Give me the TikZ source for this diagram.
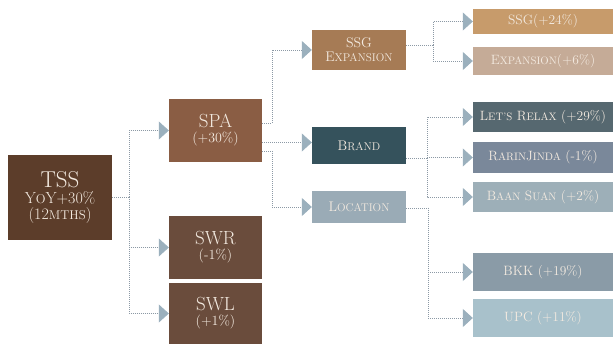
\documentclass[tikz,border=0pt]{standalone}
\usepackage{relsize}
\usetikzlibrary{arrows.meta}

\definecolor{tssbrown}{HTML}{5C3D2A}
\definecolor{spabrown}{HTML}{8A5D44}
\definecolor{swbrown}{HTML}{6A4C3C}
\definecolor{ssgbrown}{HTML}{A67B55}
\definecolor{brandteal}{HTML}{35525C}
\definecolor{locgray}{HTML}{9AABB6}
\definecolor{ssgtan}{HTML}{C79B6B}
\definecolor{exptan}{HTML}{C5AB97}
\definecolor{relaxslate}{HTML}{566870}
\definecolor{rarinslate}{HTML}{7A889A}
\definecolor{baanslate}{HTML}{9DAFB8}
\definecolor{bkkslate}{HTML}{8A9BA7}
\definecolor{upcblue}{HTML}{A8C1CB}
\definecolor{linegray}{HTML}{8C99A5}
\definecolor{tipblue}{HTML}{9BB0BD}
\definecolor{cream}{HTML}{F3EAE0}

% small capitals drawn as scaled capitals
\newcommand{\smc}[1]{\textscale{.8}{#1}}

\begin{document}
\begin{tikzpicture}[
    x=1pt, y=-1pt,
    box/.style={rectangle, inner sep=0pt, align=center, text=cream},
    midbox/.style={box, minimum width=94pt, font=\fontsize{14}{14}\selectfont},
    leaf/.style={box, minimum width=140pt, font=\fontsize{13.5}{14}\selectfont},
    link/.style={draw=linegray, line width=0.8pt, dash pattern=on 1pt off 1pt},
    arrowlink/.style={link, -{Triangle[length=10pt, width=18pt, color=tipblue]}}
  ]
  \useasboundingbox (0,0) rectangle (615,344);

  % root
  \node[box, fill=tssbrown, minimum width=104pt, minimum height=85pt] (tss) at (60,197.5)
    {\fontsize{23}{23}\selectfont TSS\\[3pt]
     \fontsize{16}{21}\selectfont Y\smc{O}Y+30\%\\[2pt]
     \fontsize{16}{19}\selectfont (12\smc{MTHS})};

  % second level
  \node[box, fill=spabrown, minimum width=93pt, minimum height=63pt] (spa) at (215.5,130.5)
    {\fontsize{19}{19}\selectfont SPA\\[3pt] \fontsize{14}{17}\selectfont (+30\%)};
  \node[box, fill=swbrown, minimum width=93pt, minimum height=63pt] (swr) at (215.5,247.5)
    {\fontsize{19}{19}\selectfont SWR\\[3pt] \fontsize{14}{17}\selectfont (-1\%)};
  \node[box, fill=swbrown, minimum width=93pt, minimum height=61pt] (swl) at (215.5,313.5)
    {\fontsize{19}{19}\selectfont SWL\\[3pt] \fontsize{14}{17}\selectfont (+1\%)};

  % third level
  \node[midbox, fill=ssgbrown, minimum height=40pt] (ssg) at (359,50)
    {SSG\\ \fontsize{14}{12}\selectfont E\smc{XPANSION}};
  \node[midbox, fill=brandteal, minimum height=37pt] (brand) at (359,145.5) {B\smc{RAND}};
  \node[midbox, fill=locgray, minimum height=32pt] (loc) at (359,207) {L\smc{OCATION}};

  % leaves
  \node[leaf, fill=ssgtan, minimum height=25pt] (ssg24) at (543,21.5) {SSG(+24\%)};
  \node[leaf, fill=exptan, minimum height=28pt] (exp6) at (543,61) {E\smc{XPANSION}(+6\%)};
  \node[leaf, fill=relaxslate, minimum height=30pt] (relax) at (543,117) {L\smc{ET'S} R\smc{ELAX} (+29\%)};
  \node[leaf, fill=rarinslate, minimum height=31pt] (rarin) at (543,157.5) {R\smc{ARIN}J\smc{INDA} (-1\%)};
  \node[leaf, fill=baanslate, minimum height=30pt] (baan) at (543,197) {B\smc{AAN} S\smc{UAN} (+2\%)};
  \node[leaf, fill=bkkslate, minimum height=38pt] (bkk) at (543,272) {BKK (+19\%)};
  \node[leaf, fill=upcblue, minimum height=38pt] (upc) at (543,318) {UPC (+11\%)};

  % junctions
  \coordinate (j1) at (129,197);
  \coordinate (j2) at (272,50);
  \coordinate (j3) at (272,207);
  \coordinate (j4) at (433,45);
  \coordinate (j5) at (427,158);
  \coordinate (j6) at (428,208);

  % tss links
  \draw[link] (tss.east |- j1) -- (j1);
  \draw[arrowlink] (j1) |- (spa.west);
  \draw[arrowlink] (j1) |- (swr.west);
  \draw[arrowlink] (j1) |- (swl.west);

  % spa links
  \draw[arrowlink] ([yshift=7.5pt]spa.east) -| (j2) -- (ssg.west);
  \draw[arrowlink] ([yshift=-12pt]spa.east) coordinate (s2) -- (s2 -| brand.west);
  \draw[arrowlink] ([yshift=-20.5pt]spa.east) -| (j3) -- (loc.west);

  % ssg links
  \draw[link] (ssg.east |- j4) -- (j4);
  \draw[arrowlink] (j4) |- (ssg24.west);
  \draw[arrowlink] (j4) |- (exp6.west);

  % brand links
  \draw[link] (brand.east |- j5) -- (j5);
  \draw[arrowlink] (j5) |- (relax.west);
  \draw[arrowlink] (j5) |- (rarin.west);
  \draw[arrowlink] (j5) |- (baan.west);

  % location links
  \draw[link] (loc.east |- j6) -- (j6);
  \draw[arrowlink] (j6) |- (bkk.west);
  \draw[arrowlink] (j6) |- (upc.west);

\end{tikzpicture}
\end{document}
